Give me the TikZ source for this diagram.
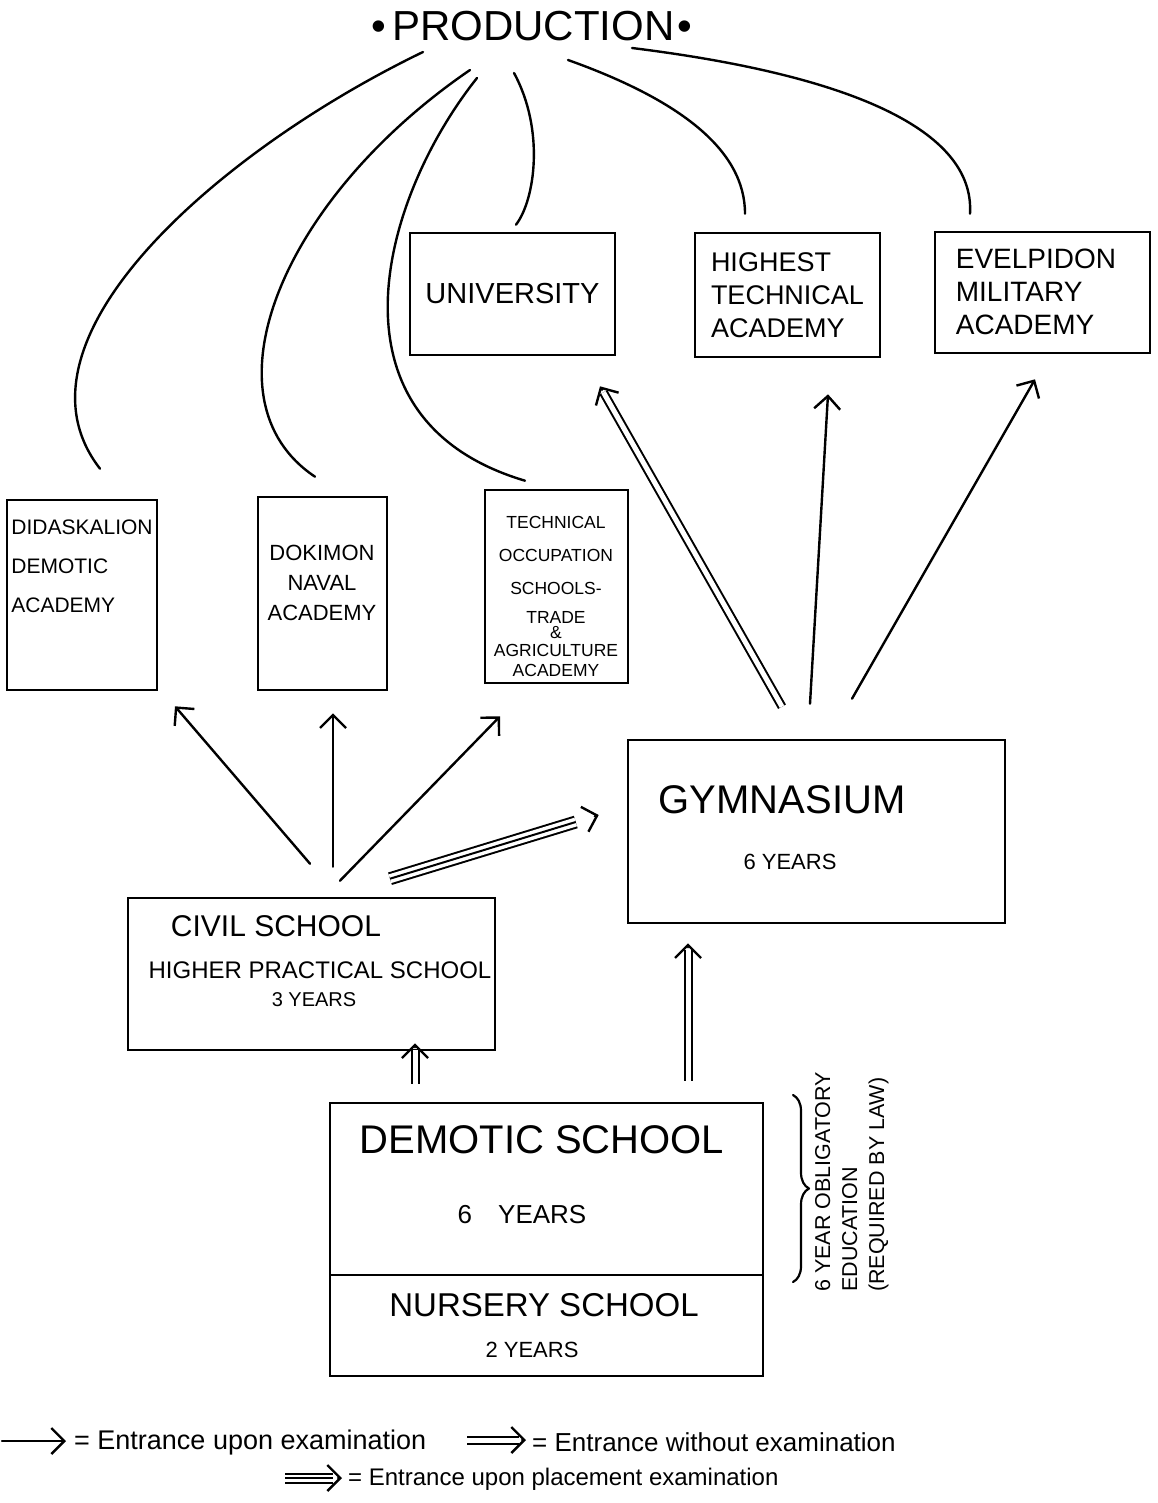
\documentclass[tikz,border=0pt]{standalone}
\usepackage{fontspec}
\setmainfont{Liberation Sans}
\usetikzlibrary{arrows.meta,calc,decorations.pathreplacing}
\newcommand\fs[2]{\fontsize{#1}{#2}\selectfont}
\newcommand\dblarrow[2]{%
  \draw[conn,line cap=butt,double,double distance=5pt,line width=2pt] (#1) -- ($(#2)!7pt!(#1)$);
  \draw[conn,arrowtip] ($(#2)!4pt!(#1)$) -- (#2);}
\newcommand\triarrow[2]{%
  \draw[conn,line cap=butt,double,double distance=9pt,line width=2pt] (#1) -- ($(#2)!24pt!(#1)$);
  \draw[conn,line cap=butt,line width=2pt] (#1) -- ($(#2)!24pt!(#1)$);
  \draw[conn,arrowtip] ($(#2)!4pt!(#1)$) -- (#2);}
\begin{document}
\begin{tikzpicture}[x=1pt,y=-1pt,
  box/.style={draw,line width=2.6pt,inner sep=0pt},
  conn/.style={line width=2.4pt,line cap=round,line join=round},
  arrowtip/.style={-{Straight Barb[length=13pt,width=26pt,line width=2.4pt]}},
  lbl/.style={inner sep=0pt,align=center}]
\useasboundingbox (0,0) rectangle (1158,1503);

% title
\node[lbl,font=\fs{42}{48}] (prod) at (532,26) {•\hspace{6pt}PRODUCTION\hspace{3pt}•};

% top row boxes
\node[box,minimum width=205pt,minimum height=122pt,font=\fs{29}{32}] (univ) at (512.5,294) {UNIVERSITY};
\node[box,minimum width=185pt,minimum height=124pt,align=left,font=\fs{27}{33}] (hta) at (787.5,295) {HIGHEST\\TECHNICAL\\ACADEMY};
\node[box,minimum width=215pt,minimum height=121pt] (evel) at (1042.5,292.5) {};
\node[lbl,align=left,font=\fs{28}{33}] (evelt) at (1036,292) {EVELPIDON\\MILITARY\\ACADEMY};

% middle row boxes
\node[box,minimum width=150pt,minimum height=190pt] (did) at (82,595) {};
\node[lbl,align=left,font=\fs{21}{39}] (didt) at (82,566) {DIDASKALION\\DEMOTIC\\ACADEMY};
\node[box,minimum width=129pt,minimum height=193pt] (dok) at (322.5,593.5) {};
\node[lbl,font=\fs{22}{30}] (dokt) at (322,583) {DOKIMON\\NAVAL\\ACADEMY};
\node[box,minimum width=143pt,minimum height=193pt] (tech) at (556.5,586.5) {};
\node[lbl,font=\fs{17.5}{20}] (techt) at (556,596) {TECHNICAL\\[13pt]OCCUPATION\\[13pt]SCHOOLS-\\[9pt]TRADE\\[-5pt]\&\\[-2pt]AGRICULTURE\\ACADEMY};

% gymnasium
\node[box,minimum width=377pt,minimum height=183pt] (gym) at (816.5,831.5) {};
\node[lbl,font=\fs{40}{44}] (gymt1) at (782,800) {GYMNASIUM};
\node[lbl,font=\fs{22}{26}] (gymt2) at (790,862) {6 YEARS};

% civil school
\node[box,minimum width=367pt,minimum height=152pt] (civ) at (311.5,974) {};
\node[lbl,font=\fs{30}{32}] (civt1) at (276,926) {CIVIL SCHOOL};
\node[lbl,font=\fs{24}{28}] (civt2) at (320,970) {HIGHER PRACTICAL SCHOOL};
\node[lbl,font=\fs{20}{24}] (civt3) at (314,1000) {3 YEARS};

% demotic / nursery
\node[box,minimum width=433pt,minimum height=172pt] (dem) at (546.5,1189) {};
\node[lbl,font=\fs{40}{44}] (demt1) at (542,1140) {DEMOTIC SCHOOL};
\node[lbl,font=\fs{26}{30}] (demt2) at (522,1215) {6\quad YEARS};
\node[box,minimum width=433pt,minimum height=101pt] (nur) at (546.5,1325.5) {};
\node[lbl,font=\fs{33}{36}] (nurt1) at (544,1305) {NURSERY SCHOOL};
\node[lbl,font=\fs{22}{26}] (nurt2) at (532,1350) {2 YEARS};

% brace and note
\draw[conn,line width=2.2pt,decorate,decoration={brace,amplitude=16pt}] (793,1095) -- (793,1282);
\node[rotate=90,anchor=north west,align=left,inner sep=0pt,font=\fs{21.5}{27}] (oblig) at (815,1292) {6 YEAR OBLIGATORY\\EDUCATION\\(REQUIRED BY LAW)};

% curves from production
\draw[conn] ([shift={(-109,26)}]prod.center) .. controls (220,150) and (0,340) .. ([shift={(18,-30)}]did.north);
\draw[conn] ([shift={(-62,44)}]prod.center) .. controls (280,200) and (200,400) .. ([shift={(-7.5,-19)}]dok.north);
\draw[conn] ([shift={(-55,52)}]prod.center) .. controls (380,200) and (320,420) .. ([shift={(-31.5,-8)}]tech.north);
\draw[conn] ([shift={(-18,47)}]prod.center) .. controls (545,130) and (535,200) .. ([shift={(3.5,-7)}]univ.north);
\draw[conn] ([shift={(36,34)}]prod.center) .. controls (680,100) and (745,150) .. ([shift={(-42.5,-18)}]hta.north);
\draw[conn] ([shift={(100,22)}]prod.center) .. controls (850,75) and (975,130) .. ([shift={(-72.5,-17)}]evel.north);

% single arrows (entrance upon examination)
\draw[conn,arrowtip] ([shift={(-1.5,-33)}]civ.north) -- ([shift={(93,15)}]did.south);
\draw[conn,arrowtip] ([shift={(21.5,-30)}]civ.north) -- ([shift={(10.5,22)}]dok.south);
\draw[conn,arrowtip] ([shift={(28.5,-16)}]civ.north) -- ([shift={(-56.5,32)}]tech.south);
\draw[conn,arrowtip] ([shift={(-6.5,-35)}]gym.north) -- ([shift={(40.5,36)}]hta.south);
\draw[conn,arrowtip] ([shift={(35.5,-40)}]gym.north) -- ([shift={(-7.5,25)}]evel.south);

% double arrows (entrance without examination)
\coordinate (gu1) at ([shift={(-34.5,-32)}]gym.north);
\coordinate (gu2) at ([shift={(87.5,30)}]univ.south);
\dblarrow{gu1}{gu2}
\coordinate (dc1) at ([shift={(-131.5,-18)}]dem.north);
\coordinate (dc2) at ([shift={(103.5,-8)}]civ.south);
\dblarrow{dc1}{dc2}
\coordinate (dg1) at ([shift={(141.5,-21)}]dem.north);
\coordinate (dg2) at ([shift={(-128.5,19)}]gym.south);
\dblarrow{dg1}{dg2}

% triple arrow (placement examination)
\coordinate (cg1) at ([shift={(78.5,-18)}]civ.north);
\coordinate (cg2) at ([shift={(-28,-16.5)}]gym.west);
\triarrow{cg1}{cg2}

% legend
\node[anchor=west,inner sep=0pt,font=\fs{27}{30}] (lg1) at (74,1443) {= Entrance upon examination};
\node[anchor=west,inner sep=0pt,font=\fs{26}{30}] (lg2) at (532,1442) {= Entrance without examination};
\node[anchor=west,inner sep=0pt,font=\fs{24}{28}] (lg3) at (348,1479) {= Entrance upon placement examination};
\coordinate (la1) at (2,1441);
\draw[conn,arrowtip] (la1) -- ([shift={(-8,-2)}]lg1.west);
\coordinate (la2) at (467,1440);
\coordinate (la2e) at ([shift={(-6,-2)}]lg2.west);
\dblarrow{la2}{la2e}
\coordinate (la3) at (285,1478);
\coordinate (la3e) at ([shift={(-6,-1)}]lg3.west);
\draw[conn,line cap=butt,double,double distance=7pt,line width=2pt] (la3) -- ($(la3e)!9pt!(la3)$);
\draw[conn,line cap=butt,line width=2pt] (la3) -- ($(la3e)!9pt!(la3)$);
\draw[conn,arrowtip] ($(la3e)!4pt!(la3)$) -- (la3e);
\end{tikzpicture}
\end{document}
